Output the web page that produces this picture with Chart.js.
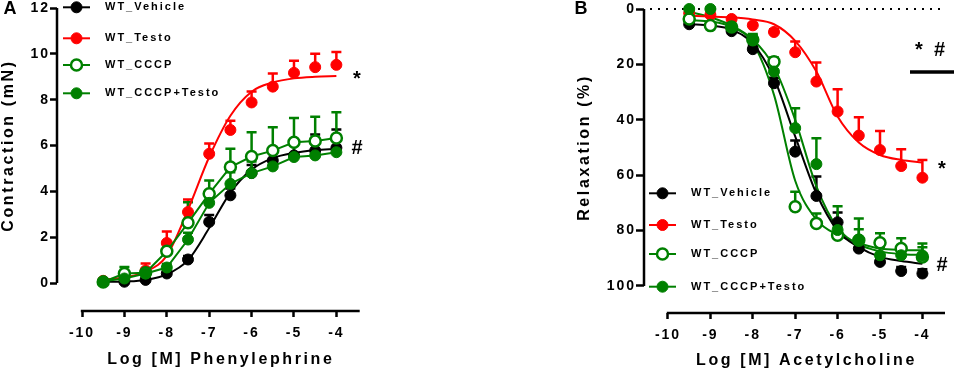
<!DOCTYPE html>
<html lang="en">
<head>
<meta charset="UTF-8">
<title>Contraction and relaxation curves</title>
<style>
  body { margin: 0; background: #fff; }
  canvas { position: absolute; top: 0; }
  #chartA { left: 0; }
  #chartB { left: 480px; }
</style>
</head>
<body>
<canvas id="chartA" width="480" height="372"></canvas>
<canvas id="chartB" width="477" height="372"></canvas>

<script src="https://cdn.jsdelivr.net/npm/chart.js"></script>
<script>
// log molar concentrations used in both panels
const doses = [-9.5, -9, -8.5, -8, -7.5, -7, -6.5, -6, -5.5, -5, -4.5, -4];
const names = ['WT_Vehicle', 'WT_Testo', 'WT_CCCP', 'WT_CCCP+Testo'];
const xTicks = [-10, -9, -8, -7, -6, -5, -4];
const yTicksA = [0, 2, 4, 6, 8, 10, 12];
const yTicksB = [0, 20, 40, 60, 80, 100];

// A: phenylephrine contraction (mN), mean and SEM
const aVehicle      = [0.05, 0.06, 0.14, 0.42, 1.03, 2.67, 3.83, 4.8, 5.35, 5.57, 5.78, 5.9];
const aVehicleErr   = [0.02, 0.03, 0.05, 0.1, 0.15, 0.3, 0.3, 0.35, 0.5, 0.6, 0.7, 0.8];
const aTesto        = [0.1, 0.3, 0.55, 1.75, 3.1, 5.64, 6.68, 7.88, 8.57, 9.17, 9.42, 9.52];
const aTestoErr     = [0.05, 0.15, 0.3, 0.5, 0.55, 0.45, 0.4, 0.48, 0.57, 0.53, 0.58, 0.56];
const aCccp         = [0.05, 0.42, 0.45, 1.39, 2.63, 3.9, 5.06, 5.52, 5.78, 6.14, 6.2, 6.33];
const aCccpErr      = [0.03, 0.28, 0.1, 0.1, 0.9, 0.58, 0.8, 1.06, 1.02, 1.06, 1.06, 1.12];
const aCccpTesto    = [0.08, 0.2, 0.42, 0.68, 1.9, 3.5, 4.33, 4.8, 5.09, 5.5, 5.57, 5.71];
const aCccpTestoErr = [0.03, 0.1, 0.1, 0.15, 0.3, 0.4, 0.5, 0.5, 0.6, 0.6, 0.6, 0.6];
// fitted curves (greens are joined point to point)
const aVehicleFit = [0.05, 0.07, 0.14, 0.38, 1.0, 2.4, 3.95, 4.95, 5.45, 5.68, 5.8, 5.85];
const aTestoFit   = [0.15, 0.25, 0.5, 1.2, 3.2, 5.5, 7.3, 8.35, 8.75, 8.93, 9.0, 9.03];

// B: acetylcholine relaxation (%), mean and SEM
const bVehicle      = [5.5, 6, 8, 14.5, 26.8, 51.5, 67.5, 77, 86.5, 91.3, 94.6, 95.5];
const bVehicleErr   = [0.5, 0.5, 1, 1.5, 2, 4, 7, 3.5, 2, 1.5, 1.5, 1.5];
const bTesto        = [1.5, 2.1, 3.6, 5.9, 8.3, 15.6, 26.2, 37, 45.7, 50.9, 56.7, 60.9];
const bTestoErr     = [0.5, 0.5, 0.6, 0.8, 1, 3.9, 6.9, 8, 6.6, 6.9, 6.1, 6.4];
const bCccp         = [3.6, 6.0, 6.5, 11.1, 19, 71.4, 77.4, 81.7, 83.5, 84.4, 86.5, 89.5];
const bCccpErr      = [0.5, 0.5, 1, 1.5, 1.5, 5.4, 3.6, 3, 4, 3.4, 3.7, 4.8];
const bCccpTesto    = [0, 0, 6.5, 11, 22.6, 43, 56, 79.8, 83.2, 88.9, 88.9, 89];
const bCccpTestoErr = [0.5, 0.5, 1, 2, 3.6, 7.2, 9.3, 8.6, 7.6, 3, 3, 3];
const bVehicleFit    = [5.5, 6, 7.5, 12.5, 25, 46, 66.6, 80, 86, 89.5, 91, 92];
const bTestoFit      = [2.5, 2.7, 3.0, 3.8, 5.5, 11.5, 22.6, 38.8, 48.2, 52.7, 54.5, 55.4];
const bCccpFit       = [4, 4.5, 6.5, 12.3, 31, 62, 76, 81.5, 84.5, 86.5, 87, 87.1];
const bCccpTestoFit  = [1, 3, 6, 11, 20.8, 40, 64, 79, 85, 87.5, 88.5, 88.8];

const colors = ['#000000', '#ff0000', '#008000', '#008000'];
const hollow = [false, false, true, false];
const FONT = "'Liberation Sans', Arial, sans-serif";

Chart.defaults.font.family = FONT;
Chart.defaults.color = '#000';

function pts(v) {
  return doses.map((x, i) => ({ x: x, y: v[i] }));
}

function buildSets(means, errs, fits) {
  const sets = [];
  means.forEach((m, k) => {
    sets.push({
      label: names[k],
      data: pts(m),
      err: errs[k],
      showLine: !fits[k],
      borderColor: colors[k],
      backgroundColor: hollow[k] ? '#fff' : colors[k],
      pointRadius: 5.5,
      pointBorderWidth: hollow[k] ? 2.5 : 1,
      borderWidth: 2,
      tension: 0,
      order: 3 - k,
      clip: false
    });
    if (fits[k]) {
      sets.push({
        data: pts(fits[k]),
        borderColor: colors[k],
        borderWidth: 2,
        pointRadius: 0,
        cubicInterpolationMode: 'monotone',
        order: 10 + k,
        clip: false,
        fill: false
      });
    }
  });
  return sets;
}

function decor(c) {
  return {
    id: 'decor',
    beforeDraw(chart) {
      chart.ctx.letterSpacing = '2px';
    },
    beforeDatasetsDraw(chart) {
      const { ctx, chartArea: ca, scales: { x, y } } = chart;
      ctx.save();
      if (c.zeroLine) {
        ctx.strokeStyle = '#000';
        ctx.lineWidth = 2;
        ctx.setLineDash([2, 6]);
        ctx.beginPath();
        ctx.moveTo(ca.left + 6, y.getPixelForValue(0));
        ctx.lineTo(ca.right, y.getPixelForValue(0));
        ctx.stroke();
        ctx.setLineDash([]);
      }
      // error bars (one side only)
      chart.data.datasets.forEach(ds => {
        if (!ds.err) return;
        ctx.strokeStyle = ds.borderColor;
        ctx.lineWidth = 2.5;
        ds.data.forEach((p, i) => {
          const px = x.getPixelForValue(p.x);
          const py = y.getPixelForValue(p.y);
          const ty = y.getPixelForValue(p.y + c.errDir * ds.err[i]);
          ctx.beginPath();
          ctx.moveTo(px, py);
          ctx.lineTo(px, ty);
          ctx.moveTo(px - 5, ty);
          ctx.lineTo(px + 5, ty);
          ctx.stroke();
        });
      });
      ctx.restore();
    },
    afterDraw(chart) {
      const { ctx, chartArea: ca, scales: { x, y } } = chart;
      ctx.save();
      // axis lines
      ctx.strokeStyle = '#000';
      ctx.lineWidth = 2.5;
      ctx.beginPath();
      ctx.moveTo(ca.left, y.getPixelForValue(c.yFrom));
      ctx.lineTo(ca.left, y.getPixelForValue(c.yTo));
      ctx.moveTo(x.getPixelForValue(c.xFrom) - 1.2, ca.bottom);
      ctx.lineTo(ca.right, ca.bottom);
      ctx.stroke();

      ctx.fillStyle = '#000';
      ctx.textAlign = 'center';
      ctx.textBaseline = 'middle';
      ctx.font = 'bold 16px ' + FONT;
      ctx.letterSpacing = '2.6px';
      ctx.fillText(c.xTitle, (x.getPixelForValue(c.xFrom) + ca.right) / 2, c.xTitleY);
      ctx.save();
      ctx.translate(c.yTitleX, (y.getPixelForValue(c.yFrom) + y.getPixelForValue(c.yTo)) / 2);
      ctx.rotate(-Math.PI / 2);
      ctx.fillText(c.yTitle, 0, 0);
      ctx.restore();

      // panel letter
      ctx.letterSpacing = '0px';
      ctx.font = 'bold 18px ' + FONT;
      ctx.fillText(c.letter, c.letterX, 9);

      // significance marks
      ctx.font = 'bold 20px ' + FONT;
      c.marks.forEach(m => ctx.fillText(m[0], m[1], m[2]));
      if (c.bar) {
        ctx.lineWidth = 3.5;
        ctx.beginPath();
        ctx.moveTo(c.bar[0], c.bar[2]);
        ctx.lineTo(c.bar[1], c.bar[2]);
        ctx.stroke();
      }

      // legend
      names.forEach((name, k) => {
        const ly = c.legendY[k];
        ctx.strokeStyle = colors[k];
        ctx.lineWidth = 2;
        ctx.beginPath();
        ctx.moveTo(c.legendX, ly);
        ctx.lineTo(c.legendX + 27, ly);
        ctx.stroke();
        ctx.beginPath();
        ctx.arc(c.legendX + 13.5, ly, 5.5, 0, Math.PI * 2);
        ctx.fillStyle = hollow[k] ? '#fff' : colors[k];
        ctx.fill();
        ctx.lineWidth = hollow[k] ? 2.5 : 1;
        ctx.stroke();
        ctx.fillStyle = '#000';
        ctx.textAlign = 'left';
        ctx.font = 'bold 11px ' + FONT;
        ctx.letterSpacing = '2px';
        ctx.fillText(name, c.legendX + 42, ly);
      });
      ctx.restore();
    }
  };
}

function makeChart(id, sets, c) {
  return new Chart(document.getElementById(id), {
    type: 'line',
    data: { datasets: sets },
    options: {
      responsive: false,
      animation: false,
      events: [],
      layout: { padding: { left: 0, top: c.top, right: c.padRight, bottom: 0 } },
      plugins: { legend: { display: false }, tooltip: { enabled: false } },
      scales: {
        x: {
          type: 'linear',
          min: c.xMin,
          max: c.xMax,
          afterBuildTicks: s => { s.ticks = xTicks.map(v => ({ value: v })); },
          afterFit: s => { s.height = 372 - c.bottom; s.paddingLeft = 0; s.paddingRight = 0; },
          ticks: {
            autoSkip: false, maxRotation: 0, padding: 8,
            font: { size: 14, weight: 'bold' },
            callback: v => String(v)
          },
          grid: { drawOnChartArea: false, drawTicks: true, tickLength: 6, tickWidth: 2.5, tickColor: '#000' },
          border: { display: false }
        },
        y: {
          type: 'linear',
          min: c.yMin,
          max: c.yMax,
          reverse: c.reverse,
          afterBuildTicks: s => { s.ticks = c.yTicks.map(v => ({ value: v })); },
          afterFit: s => { s.width = c.left; s.paddingTop = 0; s.paddingBottom = 0; },
          ticks: {
            autoSkip: false, padding: 0,
            font: { size: 14, weight: 'bold' },
            callback: v => String(v)
          },
          grid: { drawOnChartArea: false, drawTicks: true, tickLength: c.tickLen, tickWidth: 2.5, tickColor: '#000' },
          border: { display: false }
        }
      }
    },
    plugins: [decor(c)]
  });
}

makeChart('chartA',
  buildSets([aVehicle, aTesto, aCccp, aCccpTesto],
            [aVehicleErr, aTestoErr, aCccpErr, aCccpTestoErr],
            [aVehicleFit, aTestoFit, null, null]),
  {
    letter: 'A', letterX: 10,
    xMin: -10.59, xMax: -3.45, yMin: -1.217, yMax: 12, reverse: false,
    yTicks: yTicksA, left: 57, top: 7, bottom: 311, padRight: 120.3, tickLen: 7,
    yFrom: 0, yTo: 12, xFrom: -10, errDir: 1, zeroLine: false,
    xTitle: 'Log [M] Phenylephrine', xTitleY: 360,
    yTitle: 'Contraction (mN)', yTitleX: 9,
    legendX: 63, legendY: [7.3, 38.3, 65, 93.3],
    marks: [['*', 357, 79], ['#', 357, 148]]
  });

makeChart('chartB',
  buildSets([bVehicle, bTesto, bCccp, bCccpTesto],
            [bVehicleErr, bTestoErr, bCccpErr, bCccpTestoErr],
            [bVehicleFit, bTestoFit, bCccpFit, bCccpTestoFit]),
  {
    letter: 'B', letterX: 101,
    xMin: -10.566, xMax: -3.467, yMin: 0, yMax: 109.75, reverse: true,
    yTicks: yTicksB, left: 164, top: 9, bottom: 313, padRight: 12, tickLen: 8,
    yFrom: 0, yTo: 100, xFrom: -10, errDir: -1, zeroLine: true,
    xTitle: 'Log [M] Acetylcholine', xTitleY: 361,
    yTitle: 'Relaxation (%)', yTitleX: 105,
    legendX: 169, legendY: [193.3, 225, 254, 286.7],
    marks: [['*  #', 450, 50], ['*', 462, 169], ['#', 462, 265]],
    bar: [430, 474, 72]
  });
</script>
</body>
</html>
